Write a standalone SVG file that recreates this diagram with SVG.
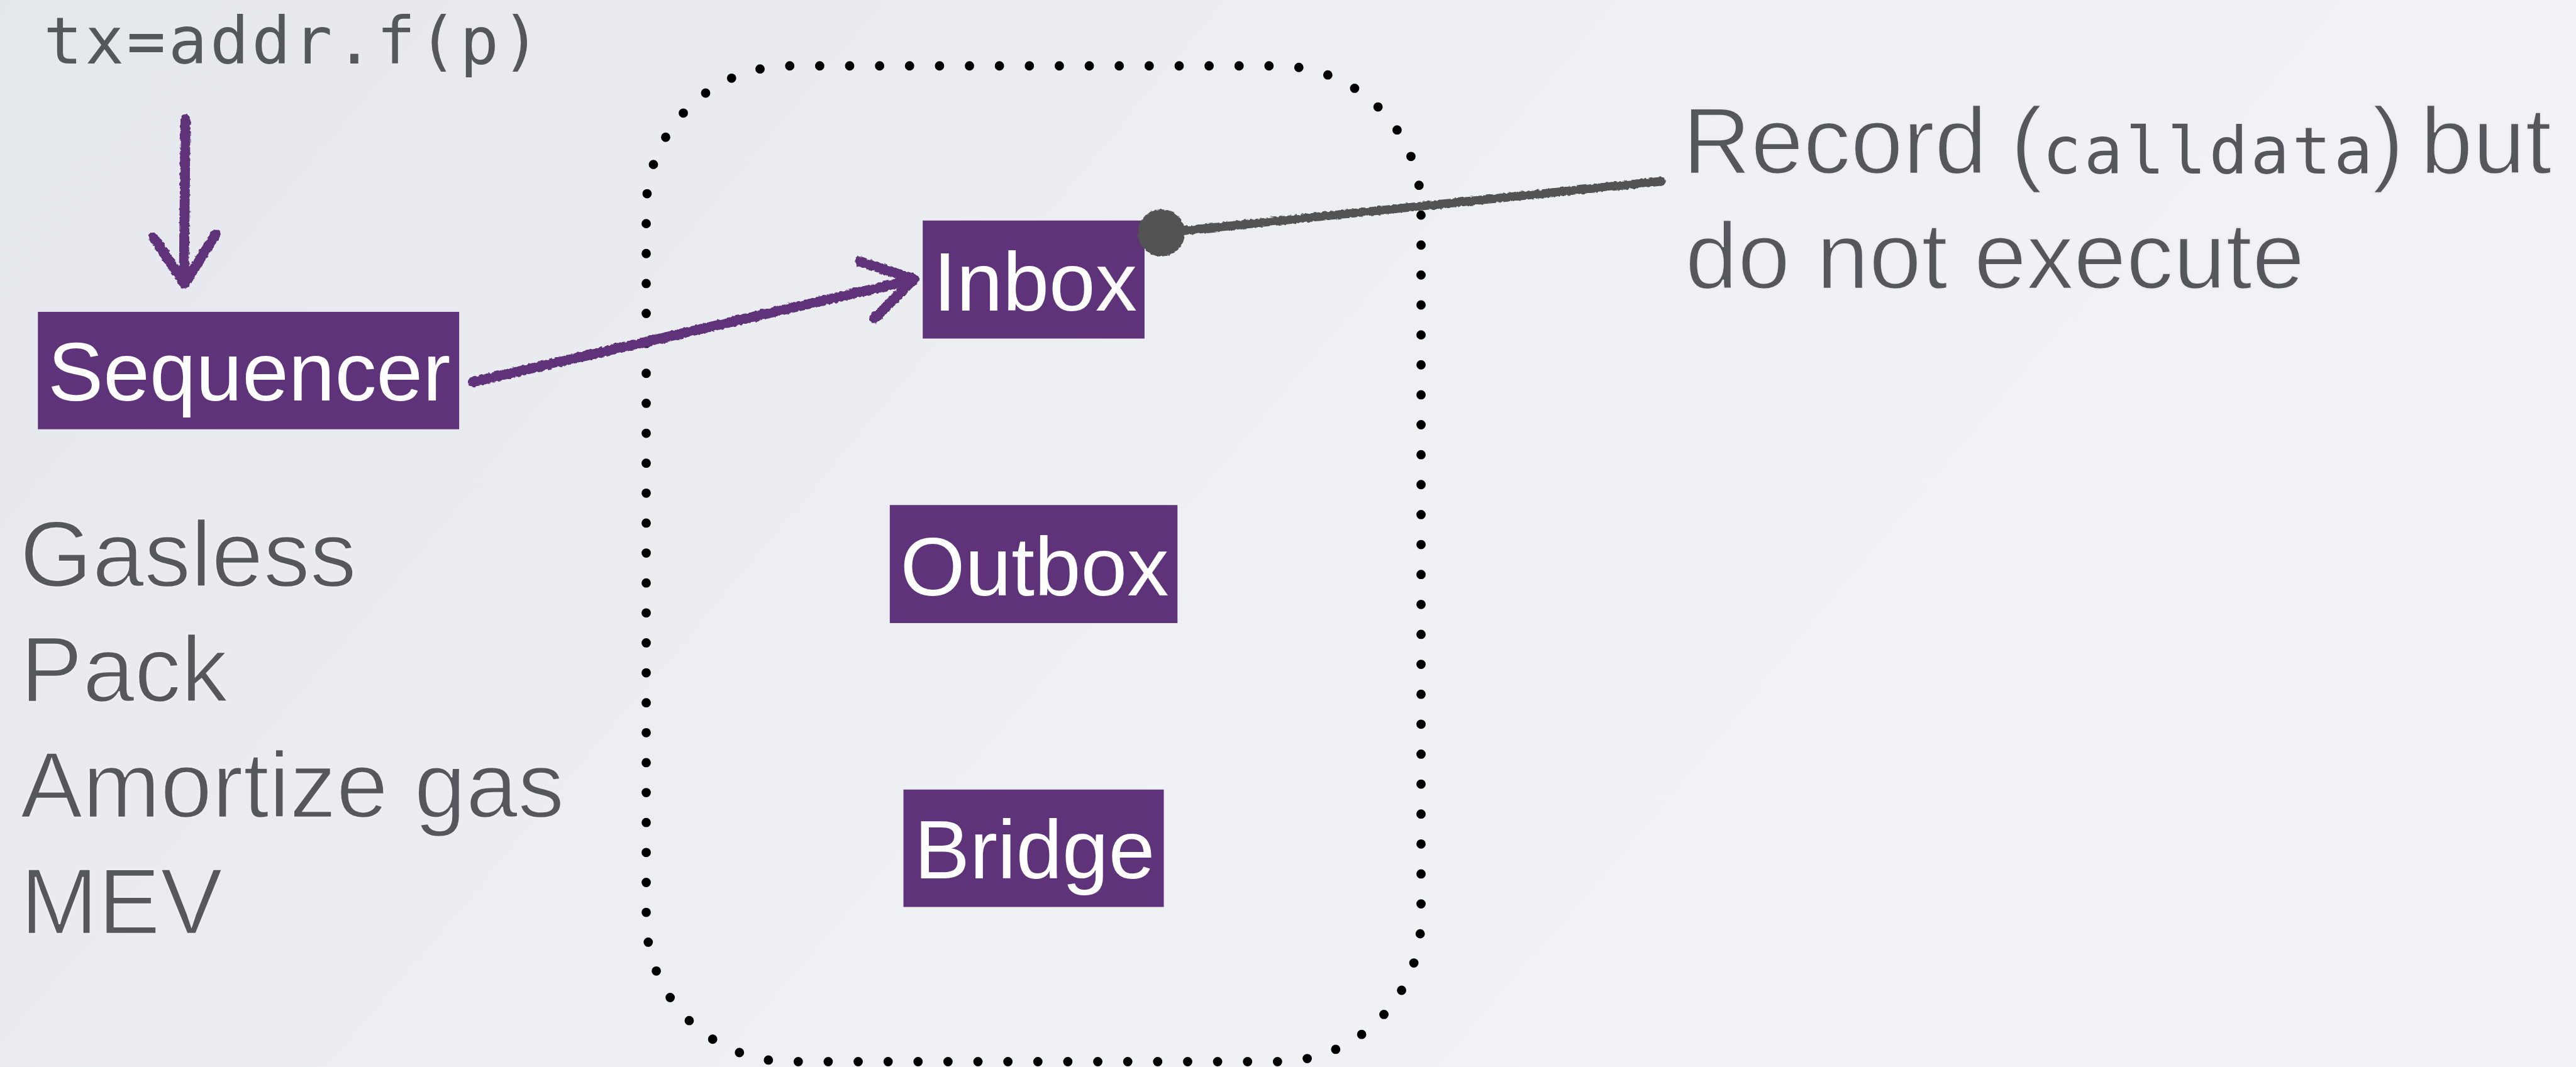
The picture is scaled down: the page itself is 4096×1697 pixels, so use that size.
<svg xmlns="http://www.w3.org/2000/svg" width="4096" height="1697" viewBox="0 0 4096 1697">
  <defs>
    <linearGradient id="bg" x1="0" y1="0" x2="1" y2="0.35">
      <stop offset="0" stop-color="#e4e7ec"/>
      <stop offset="0.6" stop-color="#eef0f3"/>
      <stop offset="1" stop-color="#f2f3f6"/>
    </linearGradient>
    <filter id="rough" x="-5%" y="-5%" width="110%" height="110%">
      <feTurbulence type="fractalNoise" baseFrequency="0.18" numOctaves="2" seed="3" result="n"/>
      <feDisplacementMap in="SourceGraphic" in2="n" scale="5" xChannelSelector="R" yChannelSelector="G"/>
    </filter>
    <style>
      .box { fill: #5e3379; }
      .lbl { font-family: "Liberation Sans", Arial, Helvetica, sans-serif; font-size: 134px; fill: #ffffff; text-anchor: middle; }
      .light { font-family: "Liberation Sans", Arial, Helvetica, sans-serif; font-size: 152px; fill: #54585d; stroke: #eceef2; stroke-width: 2.5px; paint-order: fill; }
      .list { font-size: 150px; }
      .mono { font-family: "DejaVu Sans Mono", "Liberation Mono", monospace; font-size: 104px; letter-spacing: 4.4px; fill: #54585d; }
      .light .mono { stroke: none; }
      .purple { fill: none; stroke: #5e3379; stroke-width: 16; stroke-linecap: round; stroke-linejoin: round; }
      .gray { fill: none; stroke: #525252; stroke-width: 14; stroke-linecap: round; }
      .dots { fill: none; stroke: #000000; stroke-width: 15; stroke-linecap: round; stroke-dasharray: 0 1; }
    </style>
  </defs>
  <g transform="scale(0.988)">
    <rect x="0" y="0" width="4146" height="1720" fill="url(#bg)"/>

    <g id="container">
      <path class="dots" pathLength="110" d="M1271,106 H2056 A231,231 0 0 1 2287,337 V1478 A231,231 0 0 1 2056,1709 H1271 A231,231 0 0 1 1040,1478 V337 A231,231 0 0 1 1271,106 Z"/>
    </g>

    <g id="label-tx">
      <text class="mono" x="70" y="102">tx=addr.f(p)</text>
    </g>

    <g id="node-sequencer">
      <rect class="box" x="61" y="502" width="678" height="189"/>
      <text class="lbl" x="401" y="645">Sequencer</text>
    </g>

    <g id="node-inbox">
      <rect class="box" x="1485" y="355" width="357" height="190"/>
      <text class="lbl" x="1666" y="500">Inbox</text>
    </g>

    <g id="node-outbox">
      <rect class="box" x="1432" y="813" width="463" height="190"/>
      <text class="lbl" x="1665" y="958">Outbox</text>
    </g>

    <g id="node-bridge">
      <rect class="box" x="1454" y="1271" width="419" height="189"/>
      <text class="lbl" x="1665" y="1414">Bridge</text>
    </g>

    <g id="label-features">
      <text class="light list" x="32" y="944">Gasless</text>
      <text class="light list" x="33" y="1130">Pack</text>
      <text class="light list" x="33" y="1316">Amortize gas</text>
      <text class="light list" x="33" y="1503">MEV</text>
    </g>

    <g id="label-record">
      <text class="light" y="279"><tspan x="2708">Record </tspan><tspan x="3236">(</tspan><tspan class="mono" x="3287">calldata</tspan><tspan x="3818">)</tspan><tspan x="3869" style="word-spacing:-16px"> but</tspan></text>
      <text class="light" x="2712" y="465">do not execute</text>
    </g>

    <g id="connectors" filter="url(#rough)">
      <path class="purple" d="M298.5,192 L296,452"/>
      <path class="purple" d="M247,382 L297,457 L347,377"/>
      <path class="purple" d="M761,615 L1466,451"/>
      <path class="purple" d="M1384,421 L1471,449 L1407,513"/>
      <path class="gray" d="M1869,375 L2673,292"/>
      <circle cx="1869" cy="375" r="38" fill="#525252"/>
    </g>
  </g>
</svg>
